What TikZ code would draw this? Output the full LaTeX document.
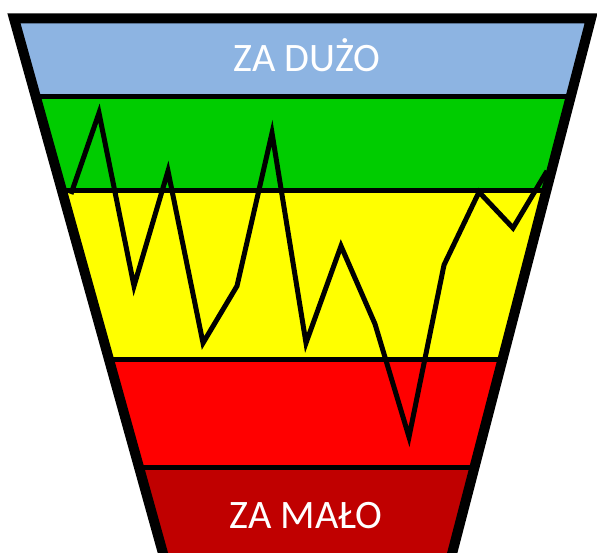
\documentclass[tikz,border=0pt]{standalone}
\usepackage{fontspec}
\setmainfont{Carlito}
\definecolor{niebieski}{HTML}{8DB4E2}
\definecolor{zielony}{HTML}{00CC00}
\definecolor{zolty}{HTML}{FFFF00}
\definecolor{czerwony}{HTML}{FF0000}
\definecolor{bordowy}{HTML}{C00000}
\tikzset{
  obrys/.style={line width=0.2cm,line join=miter},
  granica/.style={line width=0.1cm},
  wykres/.style={line width=0.1cm,line join=miter},
  napis/.style={text=white,inner sep=0pt,anchor=base,font=\fontsize{23}{27}\selectfont}
}

\begin{document}
\begin{tikzpicture}[x=0.02cm,y=-0.02cm]
  \useasboundingbox (0,0) rectangle (597,553);

  % naroza lejka
  \coordinate (TL) at (14,18.5);
  \coordinate (TR) at (591,18.5);
  \coordinate (BL) at (176,600);
  \coordinate (BR) at (440,600);

  % pasy
  \begin{scope}
    \clip (TL) -- (TR) -- (BR) -- (BL) -- cycle;
    \fill[niebieski] (0,0) rectangle (597,96.5);
    \fill[zielony] (0,96.5) rectangle (597,191);
    \fill[zolty] (0,191) rectangle (597,359.5);
    \fill[czerwony] (0,359.5) rectangle (597,467.5);
    \fill[bordowy] (0,467.5) rectangle (597,600);
    \draw[granica] (0,96.5) -- (597,96.5);
    \draw[granica] (0,191) -- (597,191);
    \draw[granica] (0,359.5) -- (597,359.5);
    \draw[granica] (0,467.5) -- (597,467.5);
  \end{scope}

  % punkty wykresu
  \coordinate (P0) at (71,194);
  \coordinate (P1) at (99,113);
  \coordinate (P2) at (134,286);
  \coordinate (P3) at (168,171);
  \coordinate (P4) at (203,343);
  \coordinate (P5) at (237,286);
  \coordinate (P6) at (272,133);
  \coordinate (P7) at (306,343);
  \coordinate (P8) at (341,246);
  \coordinate (P9) at (375,324);
  \coordinate (P10) at (409,437);
  \coordinate (P11) at (444,265);
  \coordinate (P12) at (479,192);
  \coordinate (P13) at (513,228);
  \coordinate (P14) at (547,171);

  \draw[wykres] (P0) -- (P1) -- (P2) -- (P3) -- (P4) -- (P5) -- (P6) -- (P7)
    -- (P8) -- (P9) -- (P10) -- (P11) -- (P12) -- (P13) -- (P14);

  % obrys lejka
  \draw[obrys] (BL) -- (TL) -- (TR) -- (BR);

  % napisy
  \node[napis] (duzo) at (307,72) {ZA DUŻO};
  \node[napis] (malo) at (306,528) {ZA MAŁO};
\end{tikzpicture}
\end{document}
